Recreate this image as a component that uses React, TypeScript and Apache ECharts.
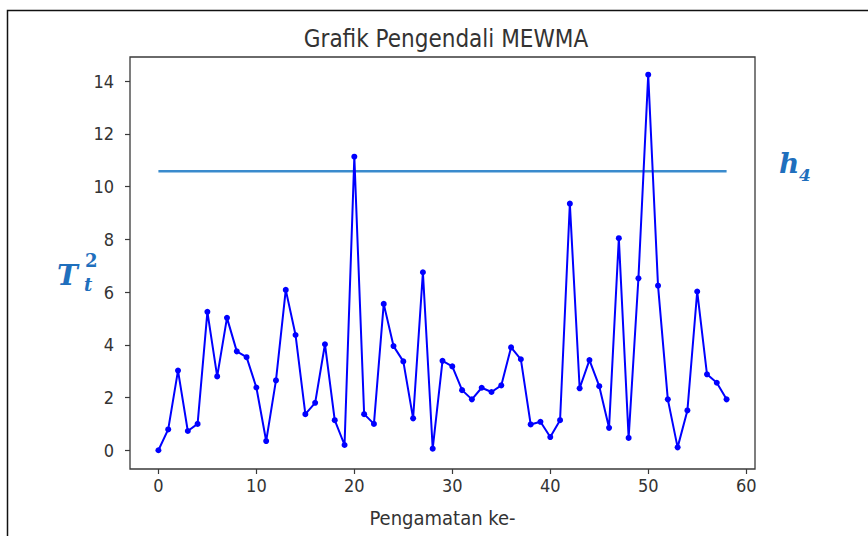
import React, { useEffect, useRef } from "react";
import * as echarts from "echarts";

const observations: number[] = [
  0, 1, 2, 3, 4, 5, 6, 7, 8, 9, 10, 11, 12, 13, 14, 15, 16, 17, 18, 19, 20,
  21, 22, 23, 24, 25, 26, 27, 28, 29, 30, 31, 32, 33, 34, 35, 36, 37, 38, 39,
  40, 41, 42, 43, 44, 45, 46, 47, 48, 49, 50, 51, 52, 53, 54, 55, 56, 57, 58,
];
const t2Values: number[] = [
  0.0, 0.79, 3.02, 0.73, 1.0, 5.25, 2.8, 5.02, 3.75, 3.53, 2.38, 0.35, 2.65,
  6.08, 4.37, 1.37, 1.8, 4.02, 1.14, 0.2, 11.13, 1.37, 1.0, 5.55, 3.95, 3.37,
  1.21, 6.75, 0.06, 3.39, 3.18, 2.28, 1.93, 2.37, 2.21, 2.46, 3.9, 3.45, 0.98,
  1.08, 0.5, 1.14, 9.35, 2.35, 3.42, 2.43, 0.85, 8.04, 0.47, 6.52, 14.24, 6.24,
  1.93, 0.11, 1.51, 6.02, 2.88, 2.56, 1.93,
];
const controlLimit = 10.58;
const xTicks: number[] = [0, 10, 20, 30, 40, 50, 60];
const yTicks: number[] = [0, 2, 4, 6, 8, 10, 12, 14];

const titleText = "Grafik Pengendali MEWMA";
const xAxisName = "Pengamatan ke-";

export default function App() {
  const ref = useRef<HTMLDivElement>(null);

  useEffect(() => {
    if (!ref.current) return;
    const chart = echarts.init(ref.current, null, { renderer: "svg" });
    const lineData = observations.map((x, i) => [x, t2Values[i]]);
    const first = observations[0];
    const last = observations[observations.length - 1];
    const textColor = "#333333";
    const annColor = "#1f6fbd";
    const serif = "'DejaVu Serif', 'Liberation Serif', serif";
    const sans = "'DejaVu Sans Condensed', 'DejaVu Sans', sans-serif";

    chart.setOption({
      animation: false,
      backgroundColor: "#ffffff",
      title: {
        text: titleText,
        left: 441,
        top: 22,
        textAlign: "center",
        textStyle: {
          fontFamily: sans,
          fontSize: 24,
          fontWeight: "normal",
          color: textColor,
        },
      },
      grid: {
        left: 130,
        top: 57,
        width: 625,
        height: 412,
        containLabel: false,
        outerBoundsMode: "none",
        show: true,
        borderColor: "#3a3a3a",
        borderWidth: 1.3,
        backgroundColor: "#ffffff",
      },
      xAxis: {
        type: "value",
        min: -2.9,
        max: 60.9,
        name: xAxisName,
        nameLocation: "middle",
        nameGap: 39,
        nameTextStyle: {
          fontFamily: sans,
          fontSize: 20,
          color: textColor,
        },
        axisLine: { show: false, onZero: false },
        splitLine: { show: false },
        axisTick: {
          show: true,
          length: 5,
          customValues: xTicks,
          lineStyle: { color: "#3a3a3a", width: 1.2 },
        },
        axisLabel: {
          customValues: xTicks,
          margin: 7,
          fontFamily: sans,
          fontSize: 18,
          color: textColor,
        },
      },
      yAxis: {
        type: "value",
        min: -0.71,
        max: 14.91,
        axisLine: { show: false, onZero: false },
        splitLine: { show: false },
        axisTick: {
          show: true,
          length: 5,
          customValues: yTicks,
          lineStyle: { color: "#3a3a3a", width: 1.2 },
        },
        axisLabel: {
          customValues: yTicks,
          margin: 16,
          fontFamily: sans,
          fontSize: 18,
          color: textColor,
        },
      },
      series: [
        {
          type: "line",
          data: [
            [first, controlLimit],
            [last, controlLimit],
          ],
          symbol: "none",
          lineStyle: { color: "#3a8bcd", width: 2.5 },
          silent: true,
          z: 1,
        },
        {
          type: "line",
          data: lineData,
          symbol: "circle",
          symbolSize: 6,
          lineStyle: { color: "#0000ff", width: 2 },
          itemStyle: { color: "#0000ff" },
          z: 2,
        },
      ],
      graphic: [
        {
          type: "rect",
          shape: { x: 7.5, y: 10.5, width: 870, height: 540 },
          style: { fill: "none", stroke: "#111111", lineWidth: 1.5 },
          silent: true,
        },
        {
          type: "text",
          x: 779,
          y: 177,
          style: {
            text: "h",
            fontFamily: serif,
            fontStyle: "italic",
            fontWeight: "bold",
            fontSize: 28,
            fill: annColor,
            textVerticalAlign: "bottom",
          },
        },
        {
          type: "text",
          x: 799,
          y: 183,
          style: {
            text: "4",
            fontFamily: serif,
            fontStyle: "italic",
            fontWeight: "bold",
            fontSize: 17,
            fill: annColor,
            textVerticalAlign: "bottom",
          },
        },
        {
          type: "text",
          x: 57,
          y: 289,
          style: {
            text: "T",
            fontFamily: serif,
            fontStyle: "italic",
            fontWeight: "bold",
            fontSize: 28,
            fill: annColor,
            textVerticalAlign: "bottom",
          },
        },
        {
          type: "text",
          x: 85,
          y: 269,
          style: {
            text: "2",
            fontFamily: serif,
            fontWeight: "bold",
            fontSize: 18,
            fill: annColor,
            textVerticalAlign: "bottom",
          },
        },
        {
          type: "text",
          x: 84,
          y: 293,
          style: {
            text: "t",
            fontFamily: serif,
            fontStyle: "italic",
            fontWeight: "bold",
            fontSize: 18,
            fill: annColor,
            textVerticalAlign: "bottom",
          },
        },
      ],
    });

    return () => chart.dispose();
  }, []);

  return <div ref={ref} style={{ width: 868, height: 536, position: "fixed", left: 0, top: 0 }} />;
}
